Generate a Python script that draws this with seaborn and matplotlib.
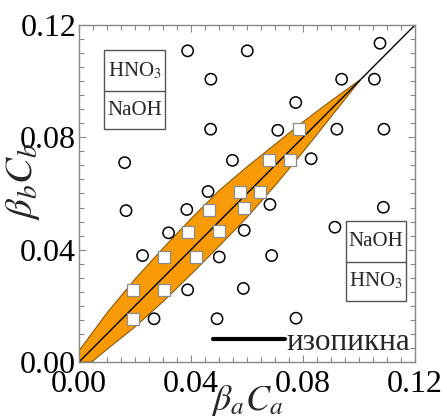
import numpy as np
import pandas as pd
import matplotlib
matplotlib.use("Agg")
import matplotlib.pyplot as plt
from matplotlib.patches import Rectangle
from matplotlib.ticker import MultipleLocator, FixedLocator, FixedFormatter
import seaborn as sns

# ---- data ----
circle_x = [0.0388, 0.0601, 0.1075, 0.0471, 0.0938, 0.1055, 0.0774, 0.0470, 0.0710,
            0.0921, 0.1089, 0.0163, 0.0548, 0.0829, 0.0461, 0.0168, 0.0385, 0.0682,
            0.1087, 0.0320, 0.0590, 0.0914, 0.0227, 0.0501, 0.0688, 0.0388, 0.0587,
            0.0268, 0.0493, 0.0775]
circle_y = [0.1108, 0.1108, 0.1135, 0.1007, 0.1007, 0.1007, 0.0924, 0.0829, 0.0825,
            0.0829, 0.0829, 0.0710, 0.0718, 0.0724, 0.0607, 0.0539, 0.0543, 0.0561,
            0.0551, 0.0460, 0.0469, 0.0480, 0.0379, 0.0374, 0.0379, 0.0257, 0.0262,
            0.0154, 0.0154, 0.0156]

square_x = [0.0193, 0.0193, 0.0304, 0.0304, 0.0388, 0.0417, 0.0464, 0.0501, 0.0575,
            0.0590, 0.0648, 0.0678, 0.0754, 0.0785]
square_y = [0.0257, 0.0154, 0.0374, 0.0257, 0.0462, 0.0374, 0.0540, 0.0465, 0.0605,
            0.0548, 0.0607, 0.0721, 0.0721, 0.0829]

band_upper_x = [0.0, 0.01, 0.02, 0.03, 0.04, 0.05, 0.06, 0.07, 0.08, 0.09, 0.1007]
band_upper_y = [0.004, 0.0175, 0.0295, 0.0405, 0.051, 0.061, 0.0695, 0.0775, 0.0855, 0.093, 0.1007]
band_lower_x = [0.0045, 0.01, 0.02, 0.03, 0.04, 0.05, 0.06, 0.07, 0.08, 0.09, 0.1007]
band_lower_y = [0.0, 0.0045, 0.0125, 0.0215, 0.0312, 0.0412, 0.0515, 0.0628, 0.0748, 0.0873, 0.1007]

iso_x = [0.0, 0.12]
iso_y = [0.0, 0.12]

tick_vals = [0.00, 0.04, 0.08, 0.12]
tick_labels = ["0.00", "0.04", "0.08", "0.12"]

legend_label = "изопикна"
box1_labels = ["HNO$_3$", "NaOH"]
box2_labels = ["NaOH", "HNO$_3$"]

# ---- style ----
sns.set_theme(style="white")
plt.rcParams["font.family"] = ["Liberation Serif", "DejaVu Serif"]
plt.rcParams["mathtext.fontset"] = "stix"

fig = plt.figure(figsize=(4.47, 4.16), dpi=100)
ax = fig.add_axes([79 / 447, 54 / 416, 336 / 447, 337 / 416])

# band
poly_x = [0.0] + band_upper_x + band_lower_x[::-1][1:] + [0.0]
poly_y = [0.0] + band_upper_y + band_lower_y[::-1][1:] + [0.0]
ax.fill(poly_x, poly_y, facecolor="#F79A05", edgecolor="#8a5a10", linewidth=0.8, zorder=1)

# isopycnic
sns.lineplot(x=iso_x, y=iso_y, ax=ax, color="black", linewidth=1.0, zorder=2,
             label=legend_label)

# circles
sns.scatterplot(x=circle_x, y=circle_y, ax=ax, marker="o", s=66,
                facecolors="none", edgecolors="black", linewidths=1.1, zorder=3)
ax.collections[-1].set_facecolor("none")
ax.collections[-1].set_edgecolor("black")

# squares
sns.scatterplot(x=square_x, y=square_y, ax=ax, marker="s", s=68,
                facecolors="white", edgecolors="#8c8c8c", linewidths=0.9, zorder=4)
ax.collections[-1].set_facecolor("white")
ax.collections[-1].set_edgecolor("#8c8c8c")

# boxes
def draw_box(x0, x1, y0, ymid, y1, labels):
    ax.add_patch(Rectangle((x0, y0), x1 - x0, y1 - y0, fill=False,
                           edgecolor="#555555", linewidth=1.0, zorder=5))
    ax.plot([x0, x1], [ymid, ymid], color="#555555", linewidth=1.0, zorder=5)
    xc = (x0 + x1) / 2
    ax.text(xc, (ymid + y1) / 2, labels[0], ha="center", va="center", fontsize=15, zorder=6)
    ax.text(xc, (y0 + ymid) / 2, labels[1], ha="center", va="center", fontsize=15, zorder=6)

draw_box(0.0089, 0.0307, 0.0829, 0.0965, 0.1111, box1_labels)
draw_box(0.0953, 0.1169, 0.0218, 0.0356, 0.0501, box2_labels)

ax.set_xlim(0, 0.12)
ax.set_ylim(0, 0.12)

for side in ["top", "bottom", "left", "right"]:
    ax.spines[side].set_visible(True)
    ax.spines[side].set_color("#888888")
    ax.spines[side].set_linewidth(1.0)

ax.xaxis.set_major_locator(FixedLocator(tick_vals))
ax.xaxis.set_major_formatter(FixedFormatter(tick_labels))
ax.yaxis.set_major_locator(FixedLocator(tick_vals))
ax.yaxis.set_major_formatter(FixedFormatter(tick_labels))
ax.xaxis.set_minor_locator(MultipleLocator(0.005))
ax.yaxis.set_minor_locator(MultipleLocator(0.005))
ax.tick_params(which="both", direction="in", top=True, right=True, bottom=True, left=True,
               color="#888888", width=0.8)
ax.tick_params(which="major", length=5, labelsize=23, labelcolor="black")
ax.tick_params(which="minor", length=3.5)
ax.tick_params(axis="x", which="major", pad=6)
ax.tick_params(axis="y", which="major", pad=2)

ax.set_xlabel(r"$\beta_a C_a$", fontsize=26)
ax.set_ylabel(r"$\beta_b C_b$", fontsize=28)
ax.xaxis.set_label_coords(0.5, -0.062)
ax.xaxis.label.set_va("top")
ax.yaxis.set_label_coords(-0.11, 0.535)

leg = ax.legend(loc="lower right", frameon=False, fontsize=22.5, handlelength=2.3,
                handletextpad=0.05, borderaxespad=0.05, borderpad=0.1)
for h in leg.get_lines():
    h.set_linewidth(3.0)

fig.savefig("out.png", dpi=100)
